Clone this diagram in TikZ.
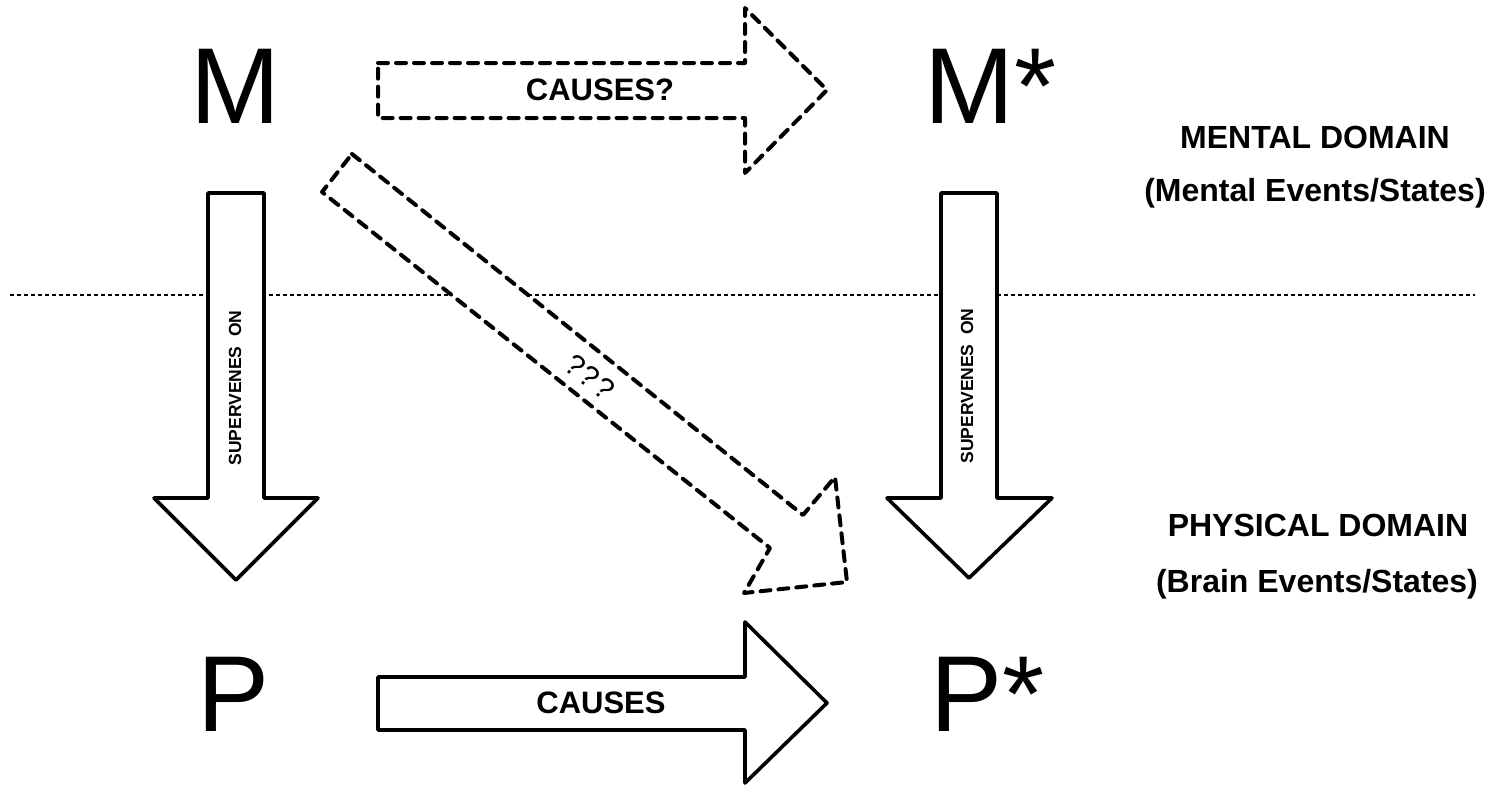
\documentclass[tikz,border=0pt]{standalone}
\usepackage{fontspec}
\setmainfont{Liberation Sans}
\begin{document}
\begin{tikzpicture}[x=1pt,y=-1pt,
  solidarrow/.style={draw=black,fill=white,line width=3.6pt,line join=round},
  dasharrow/.style={draw=black,fill=white,line width=4pt,dash pattern=on 10pt off 8pt,line cap=round,line join=round},
  bigletter/.style={inner sep=0pt,anchor=base west,font=\fontsize{108}{108}\selectfont},
  lbl/.style={inner sep=0pt,font=\bfseries\fontsize{31}{31}\selectfont},
  vlbl/.style={inner sep=0pt,rotate=90,font=\bfseries\fontsize{17.5}{17.5}\selectfont},
  dom/.style={inner sep=0pt,font=\bfseries\fontsize{32}{32}\selectfont}]
\useasboundingbox (0,0) rectangle (1500,787);
% domain separator
\draw[line width=1.3pt,dash pattern=on 4pt off 3pt] (10,295) coordinate (sepL) -- (1475,295) coordinate (sepR);
% letters
\node[bigletter] (M) at (190,123) {M};
\node[bigletter] (Ms) at (924,123) {M*};
\node[bigletter] (P) at (197,731) {P};
\node[bigletter] (Ps) at (930,731) {P*};
% supervenience arrows
\draw[solidarrow] (208,193) -- (264,193) -- (264,498) -- (318,498) -- (236,580) -- (154,498) -- (208,498) -- cycle;
\node[vlbl] (supL) at (235,388) {SUPERVENES\ \ ON};
\draw[solidarrow] (941,193) -- (997,193) -- (997,498) -- (1052,498) -- (969,578) -- (887,498) -- (941,498) -- cycle;
\node[vlbl] (supR) at (967,386) {SUPERVENES\ \ ON};
% mental causation (dashed)
\draw[dasharrow] (378,63) -- (745,63) -- (745,8) -- (827,90) -- (745,173) -- (745,118) -- (378,118) -- cycle;
\node[lbl] (causesq) at (600,90) {CAUSES?};
% diagonal (dashed)
\draw[dasharrow] (352,154) -- (803,515) -- (835,477) -- (847,582) -- (744,593) -- (770,548) -- (322,192) -- cycle;
\node[inner sep=0pt,rotate=-38.7,font=\fontsize{30}{30}\selectfont] (qqq) at (590,377) {?\kern1.5pt?\kern1.5pt?};
% physical causation
\draw[solidarrow] (378,677) -- (745,677) -- (745,622) -- (827,703) -- (745,783) -- (745,730) -- (378,730) -- cycle;
\node[lbl] (causes) at (601,703) {CAUSES};
% domain labels
\node[dom] (mdom) at (1315,137) {MENTAL DOMAIN};
\node[dom] (mev) at (1315,193) {(Mental Events/States)};
\node[dom] (pdom) at (1318,525) {PHYSICAL DOMAIN};
\node[dom] (pev) at (1317,584) {(Brain Events/States)};
\end{tikzpicture}
\end{document}
